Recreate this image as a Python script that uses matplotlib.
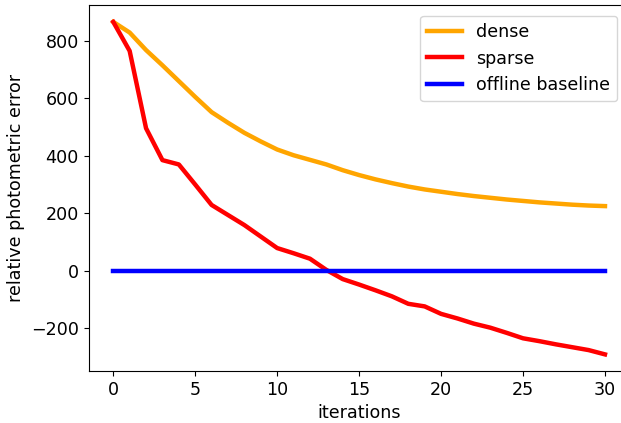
import matplotlib
matplotlib.use('Agg')
import matplotlib.pyplot as plt

# values
iterations = list(range(31))
dense = [866, 829, 768, 715, 660, 605, 552, 515, 480, 450, 422,
         402, 386, 370, 350, 333, 318, 305, 293, 283, 275,
         267, 260, 254, 248, 243, 238, 234, 230, 227, 225]
sparse = [866, 765, 496, 385, 370, 300, 229, 194, 159, 119, 79,
          61, 42, 3, -29, -48, -68, -89, -115, -124, -150,
          -166, -184, -198, -216, -235, -245, -256, -266, -276, -291]
baseline = [0] * len(iterations)

plt.rcParams['font.size'] = 12.6

fig = plt.figure(figsize=(6.21, 4.23), dpi=100)
# right edge of the axes runs past the figure, as in the cropped reference
ax = fig.add_axes([0.1428, 0.1229, 0.871, 0.8646])

ax.plot(iterations, dense, color='orange', linewidth=3.2, label='dense')
ax.plot(iterations, sparse, color='red', linewidth=3.2, label='sparse')
ax.plot(iterations, baseline, color='blue', linewidth=3.2, label='offline baseline')

ax.set_xticks([0, 5, 10, 15, 20, 25, 30])
ax.set_xlabel('iterations')
ax.set_ylabel('relative photometric error')
ax.legend(loc='upper right', bbox_to_anchor=(0.993, 0.995))

fig.savefig('out.png', dpi=100)
plt.close(fig)
